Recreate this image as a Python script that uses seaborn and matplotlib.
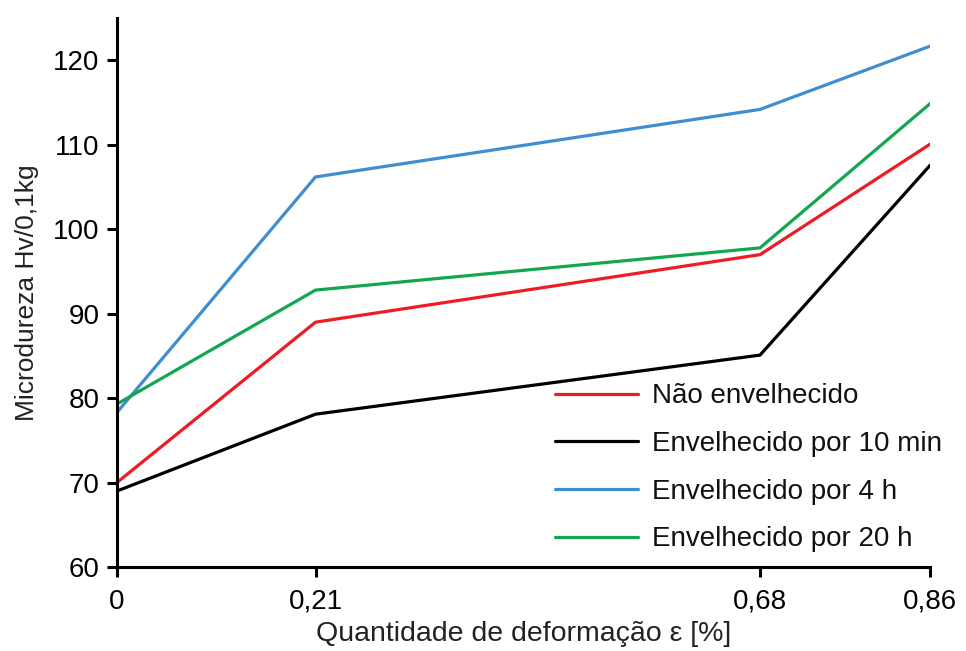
import matplotlib
matplotlib.use("Agg")
import matplotlib.pyplot as plt
import seaborn as sns
import pandas as pd

deformacao = [0, 0.21, 0.68, 0.86]
tick_labels = ["0", "0,21", "0,68", "0,86"]
nao_envelhecido = [70.0, 89.0, 97.0, 110.1]
env_10min = [69.0, 78.1, 85.1, 107.6]
env_4h = [78.3, 106.2, 114.2, 121.7]
env_20h = [79.3, 92.8, 97.8, 114.9]
series_names = ["Não envelhecido", "Envelhecido por 10 min",
                "Envelhecido por 4 h", "Envelhecido por 20 h"]
colors = ["#ED1C24", "#000000", "#3F8ED0", "#12A64E"]

rows = []
for name, vals in zip(series_names, [nao_envelhecido, env_10min, env_4h, env_20h]):
    for x, y in zip(deformacao, vals):
        rows.append({"x": x, "y": y, "serie": name})
df = pd.DataFrame(rows)

sns.set_theme(style="ticks")
plt.rcParams['font.family'] = ['Liberation Sans', 'DejaVu Sans']

fig = plt.figure(figsize=(9.66, 6.51), dpi=100)
ax = fig.add_axes([0.121, 0.129, 0.842, 0.843])
sns.lineplot(data=df, x="x", y="y", hue="serie", hue_order=series_names,
             palette=colors, linewidth=2.3, ax=ax, sort=False)

ax.set_xlim(0, 0.86)
ax.set_ylim(60, 125)
ax.set_xticks(deformacao)
ax.set_xticklabels(tick_labels)
ax.set_yticks([60, 70, 80, 90, 100, 110, 120])
ax.tick_params(axis="both", direction="out", length=7.5, width=2.2,
               labelsize=20, colors="black", pad=5)
ax.tick_params(axis="x", pad=8)
for s in ["top", "right"]:
    ax.spines[s].set_visible(False)
for s in ["left", "bottom"]:
    ax.spines[s].set_linewidth(2.2)
    ax.spines[s].set_color("black")

ax.set_xlabel("Quantidade de deformação ε [%]", fontsize=20.5, labelpad=5,
              color="#222222")
ax.set_ylabel("Microdureza Hv/0,1kg", fontsize=19, labelpad=10,
              color="#222222")

leg = ax.legend(loc="lower right", frameon=False, fontsize=20,
                handlelength=3.0, handletextpad=0.5, labelspacing=0.78,
                bbox_to_anchor=(1.045, -0.019))
for line in leg.get_lines():
    line.set_linewidth(2.3)
for t in leg.get_texts():
    t.set_color("#111111")

fig.savefig("out.png", dpi=100, facecolor="white")
